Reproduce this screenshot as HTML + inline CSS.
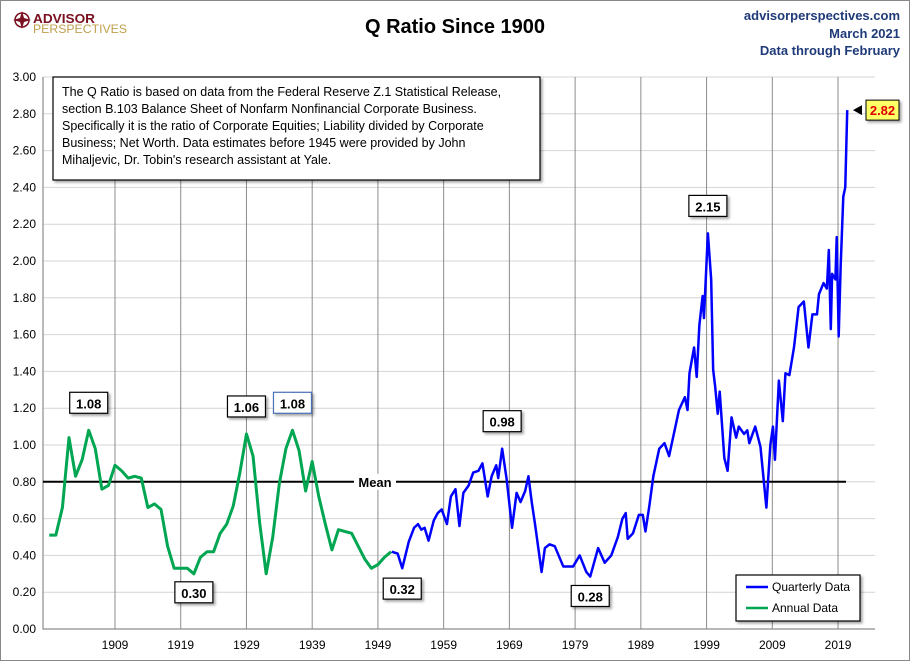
<!DOCTYPE html>
<html><head><meta charset="utf-8"><style>
body{margin:0;background:#fff;}
svg text{font-family:"Liberation Sans",sans-serif;}
</style></head><body>
<svg width="910" height="661" viewBox="0 0 910 661" xmlns="http://www.w3.org/2000/svg">
<defs><filter id="sh" x="-20%" y="-20%" width="150%" height="160%"><feDropShadow dx="2" dy="2" stdDeviation="1.2" flood-color="#000" flood-opacity="0.35"/></filter></defs>
<rect x="0.5" y="0.5" width="909" height="660" fill="#fff" stroke="#888"/>
<g>
<circle cx="22" cy="20" r="7" fill="none" stroke="#7a1020" stroke-width="1.5"/>
<path d="M22 11 L24 18 L31 20 L24 22 L22 29 L20 22 L13 20 L20 18Z" fill="#7a1020"/>
<text x="33" y="23" font-size="13" font-weight="bold" fill="#7a1020" textLength="62" lengthAdjust="spacingAndGlyphs">ADVISOR</text>
<text x="33" y="33" font-size="12" fill="#c0a050" textLength="94" lengthAdjust="spacingAndGlyphs">PERSPECTIVES</text>
</g>
<text x="455" y="33" font-size="20" font-weight="bold" text-anchor="middle" fill="#000">Q Ratio Since 1900</text>
<g font-size="13" font-weight="bold" fill="#1f3a78" text-anchor="end">
<text x="900" y="20">advisorperspectives.com</text>
<text x="900" y="38">March 2021</text>
<text x="900" y="55">Data through February</text>
</g>
<g id="grid"></g>
<g id="series"></g>
<g id="ann"></g>
</svg>
<script>
const yTicks=[0,0.2,0.4,0.6,0.8,1.0,1.2,1.4,1.6,1.8,2.0,2.2,2.4,2.6,2.8,3.0];
const xTicks=[1909,1919,1929,1939,1949,1959,1969,1979,1989,1999,2009,2019];
const meanValue=0.80;
const annualYears=[1899,1900,1901,1902,1903,1904,1905,1906,1907,1908,1909,1910,1911,1912,1913,1914,1915,1916,1917,1918,1920,1921,1922,1923,1924,1925,1926,1927,1928,1929,1930,1931,1932,1933,1934,1935,1936,1937,1938,1939,1940,1941,1942,1943,1945,1947,1948,1949,1950,1951];
const annualValues=[0.51,0.51,0.66,1.04,0.83,0.92,1.08,0.98,0.76,0.78,0.89,0.86,0.82,0.83,0.82,0.66,0.68,0.65,0.45,0.33,0.33,0.30,0.39,0.42,0.42,0.52,0.57,0.67,0.85,1.06,0.94,0.58,0.30,0.50,0.79,0.98,1.08,0.97,0.75,0.91,0.72,0.57,0.43,0.54,0.52,0.38,0.33,0.35,0.39,0.42];
const qYears=[1951.1,1952,1952.7,1953.7,1954.5,1955.1,1955.6,1956.1,1956.7,1957.5,1958.1,1958.7,1959.5,1960.1,1960.8,1961.4,1962,1962.8,1963.5,1964.3,1964.9,1965.7,1966.3,1967,1967.3,1967.9,1968.6,1969.4,1970.1,1970.7,1971.4,1971.9,1972.4,1972.9,1973.9,1974.4,1975.1,1975.9,1977.2,1978.7,1979.7,1980.7,1981.3,1982.5,1983.5,1984.5,1985.5,1986.2,1986.7,1987,1987.8,1988.7,1989.3,1989.7,1990.3,1990.9,1991.8,1992.6,1993.3,1994.8,1995.7,1996.1,1996.4,1997.1,1997.5,1997.9,1998.4,1998.6,1999.2,1999.7,2000,2000.3,2000.7,2001,2001.7,2002.2,2002.8,2003.5,2003.9,2004.7,2005.2,2005.5,2006.4,2007.2,2008.1,2008.7,2009.1,2009.4,2010,2010.6,2011,2011.6,2012.3,2013,2013.8,2014.5,2015.1,2015.8,2016.1,2016.8,2017.3,2017.6,2017.9,2018.1,2018.6,2018.8,2019.1,2019.4,2019.8,2020.1,2020.4];
const qValues=[0.42,0.41,0.33,0.475,0.55,0.57,0.54,0.55,0.48,0.59,0.63,0.65,0.57,0.72,0.76,0.56,0.74,0.78,0.85,0.86,0.90,0.72,0.83,0.89,0.82,0.98,0.81,0.55,0.74,0.69,0.75,0.83,0.69,0.57,0.31,0.44,0.46,0.45,0.34,0.34,0.40,0.31,0.285,0.44,0.36,0.40,0.50,0.60,0.63,0.49,0.52,0.62,0.62,0.53,0.67,0.83,0.98,1.01,0.94,1.19,1.26,1.19,1.39,1.53,1.37,1.65,1.81,1.69,2.15,1.90,1.41,1.32,1.17,1.29,0.93,0.86,1.15,1.04,1.10,1.06,1.08,1.01,1.10,0.99,0.66,1.00,1.10,0.92,1.35,1.13,1.39,1.38,1.53,1.75,1.78,1.53,1.71,1.71,1.82,1.88,1.85,2.06,1.63,1.93,1.90,2.13,1.59,1.97,2.35,2.40,2.82];
const annLabels=["1.08","1.06","1.08","0.30","0.32","0.98","0.28","2.15"];
const annYears=[1905,1929,1936,1921,1952.7,1967.9,1981.3,1999.2];
const annVals=[1.08,1.06,1.08,0.30,0.32,0.98,0.28,2.15];

const NS="http://www.w3.org/2000/svg";
const L=43,R=875,T=77,B=629;
const X=y=>115+(y-1909)*6.573;
const Y=v=>B-v*184;
function mk(tag,attrs,parent,txt){const e=document.createElementNS(NS,tag);for(const k in attrs)e.setAttribute(k,attrs[k]);if(txt!==undefined)e.textContent=txt;parent.appendChild(e);return e;}
const g=document.getElementById('grid'),s=document.getElementById('series'),a=document.getElementById('ann');
yTicks.forEach(v=>{
 const ln=mk('line',{x1:L,x2:R,y1:Y(v),y2:Y(v),stroke:'#d4d4d4','stroke-width':1},g);
 
 
 const t=mk('text',{x:36,y:Y(v)+4,'font-size':12,'text-anchor':'end',fill:'#000'},g,v.toFixed(2));
 
 
});
xTicks.forEach(yr=>{
 const ln=mk('line',{x1:X(yr),x2:X(yr),y1:T,y2:B,stroke:'#8c8c8c','stroke-width':1},g);
 
 
 const t=mk('text',{x:X(yr),y:B+20,'font-size':12,'text-anchor':'middle',fill:'#000'},g,String(yr));
 
 
});
const ax=mk('path',{d:`M${L} ${T}V${B}H${R}`,fill:'none',stroke:'#8c8c8c','stroke-width':1.2},g);


const mean=mk('line',{x1:L,x2:846,y1:Y(meanValue),y2:Y(meanValue),stroke:'#000','stroke-width':2},s);


const mbg=mk('rect',{x:354,y:Y(meanValue)-8,width:42,height:16,fill:'#fff'},s);


const mt=mk('text',{x:375,y:Y(meanValue)+5,'font-size':13,'font-weight':'bold','text-anchor':'middle'},s,'Mean');


const pa=mk('polyline',{points:annualYears.map((y,i)=>X(y)+','+Y(annualValues[i])).join(' '),fill:'none',stroke:'#00a651','stroke-width':3,'stroke-linejoin':'round'},s);


const pq=mk('polyline',{points:qYears.map((y,i)=>X(y)+','+Y(qValues[i])).join(' '),fill:'none',stroke:'#0000ff','stroke-width':2.5,'stroke-linejoin':'round'},s);


annLabels.forEach((lab,i)=>{
 const v=annVals[i],cx=X(annYears[i]);
 const above=v>0.6;
 const by=above?Y(v)-38:Y(v)+8;
 const r=mk('rect',{x:cx-19,y:by,width:38,height:21,fill:'#fff',stroke:i==2?'#4a6fb5':'#000','stroke-width':1.2,filter:'url(#sh)'},a);
 
 
 const t=mk('text',{x:cx,y:by+16,'font-size':13,'font-weight':'bold','text-anchor':'middle'},a,lab);
 
 
});
const lastV=qValues[qValues.length-1];
const ar=mk('path',{d:`M853 ${Y(lastV)} L862 ${Y(lastV)-5} L862 ${Y(lastV)+5}Z`,fill:'#000'},a);


const lr=mk('rect',{x:866,y:Y(lastV)-10,width:33,height:20,fill:'#ffff66',stroke:'#000',filter:'url(#sh)'},a);


const lt=mk('text',{x:882.5,y:Y(lastV)+5,'font-size':13,'font-weight':'bold','text-anchor':'middle',fill:'#e00000'},a,lastV.toFixed(2));


</script>
<svg style="position:absolute;left:0;top:0" width="910" height="661">
<g>
<rect x="53" y="77" width="487" height="103" fill="#fff" stroke="#000" stroke-width="1.2" filter="url(#sh)"/>
<g font-family="Liberation Sans,sans-serif" font-size="12.5" fill="#000">
<text x="62" y="96">The Q Ratio is based on data from the Federal Reserve Z.1 Statistical Release,</text>
<text x="62" y="113">section B.103 Balance Sheet of Nonfarm Nonfinancial Corporate Business.</text>
<text x="62" y="130">Specifically it is the ratio  of Corporate Equities; Liability divided by Corporate</text>
<text x="62" y="147">Business; Net Worth.  Data estimates before 1945 were provided by John</text>
<text x="62" y="164">Mihaljevic, Dr. Tobin's research assistant at Yale.</text>
</g></g>
<g>
<rect x="736" y="575" width="124" height="46" fill="#fff" stroke="#000" stroke-width="1.2" filter="url(#sh)"/>
<line x1="746" y1="587" x2="768" y2="587" stroke="#0000ff" stroke-width="2.5"/>
<text x="772" y="591" font-family="Liberation Sans,sans-serif" font-size="12">Quarterly Data</text>
<line x1="746" y1="608" x2="768" y2="608" stroke="#00a651" stroke-width="2.5"/>
<text x="772" y="612" font-family="Liberation Sans,sans-serif" font-size="12">Annual Data</text>
</g>
</svg>
</body></html>
